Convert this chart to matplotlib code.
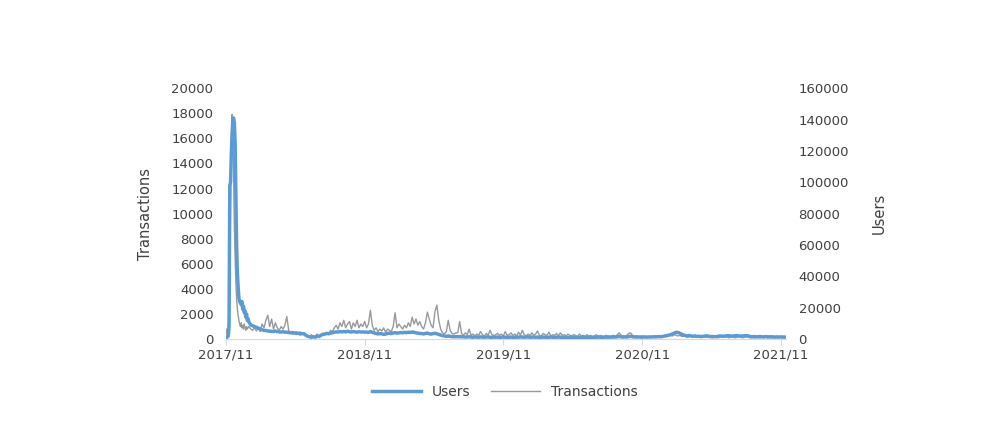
import matplotlib
matplotlib.use('Agg')
import matplotlib.pyplot as plt
import matplotlib.dates as mdates
import pandas as pd
import numpy as np

# daily-ish samples
# first part: every 2 days from 2017-11-01 (the spike), then every 5 days
trans_early = [300, 800, 600, 1000, 2500, 6000, 11000, 15500, 17900, 17000,
               13000, 9000, 6500, 4500, 3200, 2400, 1900, 1500, 1200, 1000,
               1300, 900, 1100, 800, 1200, 900, 700, 1000, 800, 900]
users_early = [500, 1000, 1500, 2000, 8000, 98000, 100000, 118000, 130000, 140000,
               141000, 138000, 125000, 90000, 58000, 42000, 33000, 26000, 24000, 23000,
               22000, 24000, 19000, 21000, 17000, 18000, 14000, 16000, 12000, 13000]

trans_late = [
    1000, 800, 700, 900, 650, 850, 600, 1200, 900, 1500,
    1900, 1000, 1600, 800, 1300, 900, 700, 1000, 800, 1100,
    1800, 700, 500, 400, 550, 350, 450, 300, 500, 350,
    300, 250, 200, 350, 150, 250, 400, 200, 300, 450,
    400, 500, 350, 700, 600, 900, 1100, 800, 1300, 1000,
    1500, 900, 1200, 1400, 800, 1300, 1000, 1500, 900, 1200,
    1000, 1400, 900, 1200, 2300, 1100, 700, 900, 600, 800,
    650, 900, 550, 800, 700, 600, 1000, 2100, 900, 1200,
    1000, 800, 1100, 900, 1300, 1000, 1750, 1200, 1600, 1100,
    1400, 1000, 800, 1300, 2150, 1600, 1100, 900, 2200, 2700,
    1500, 800, 500, 400, 600, 1500, 700, 450, 400, 500,
    500, 1400, 450, 300, 500, 350, 800, 300, 400, 250,
    400, 300, 600, 350, 250, 450, 300, 700, 350, 300,
    350, 450, 300, 400, 250, 600, 300, 350, 500, 300,
    400, 250, 550, 300, 700, 350, 250, 400, 300, 500,
    300, 400, 650, 300, 250, 450, 350, 300, 550, 250,
    350, 300, 450, 250, 500, 300, 350, 250, 400, 300,
    250, 350, 300, 200, 400, 250, 300, 200, 350, 250,
    300, 200, 250, 350, 200, 300, 250, 200, 300, 250,
    200, 250, 300, 200, 350, 500, 300, 250, 200, 300,
    450, 500, 300, 200, 250, 150, 200, 250, 150, 200,
    150, 200, 150, 200, 250, 150, 200, 150, 200, 250,
    200, 250, 300, 250, 350, 300, 250, 300, 200, 250,
    200, 150, 200, 250, 150, 200, 150, 200, 250, 150,
    200, 150, 200, 150, 100, 200, 150, 100, 150, 200,
    150, 200, 150, 100, 200, 150, 100, 150, 200, 150,
    100, 150, 200, 150, 100, 150, 100, 150, 200, 100,
    150, 100, 150, 100, 150, 100, 150, 100, 150, 100,
    150, 100, 120]
users_late = [
    11000, 9000, 8500, 8000, 7500, 7000, 6500, 6000, 5500, 5500,
    5200, 5000, 5000, 4800, 5200, 4800, 4600, 4500, 4700, 4400,
    4400, 4200, 4000, 4200, 3800, 4000, 3600, 3800, 3400, 3500,
    2500, 1800, 1500, 1200, 1500, 1200, 2000, 1600, 2500, 3000,
    3200, 3600, 3500, 3800, 4000, 4400, 4600, 4500, 4800, 4600,
    4800, 4600, 5000, 4700, 4500, 4800, 4600, 4400, 4700, 4500,
    4600, 4400, 4500, 4200, 4800, 4300, 4000, 3600, 3300, 3500,
    3400, 3000, 3200, 3600, 3800, 3500, 3900, 4100, 3800, 4000,
    4200, 4000, 4300, 4100, 4400, 4200, 4500, 4300, 4000, 3800,
    3600, 3500, 3300, 3600, 3800, 3400, 3200, 3500, 3700, 3400,
    3000, 2600, 2200, 2000, 1800, 2000, 1700, 1600, 1500, 1600,
    1500, 1600, 1400, 1500, 1300, 1400, 1500, 1300, 1200, 1400,
    1300, 1200, 1400, 1300, 1200, 1300, 1400, 1200, 1100, 1300,
    1200, 1300, 1100, 1200, 1300, 1200, 1100, 1200, 1300, 1100,
    1200, 1300, 1200, 1400, 1300, 1200, 1300, 1400, 1200, 1300,
    1300, 1200, 1300, 1100, 1200, 1300, 1200, 1100, 1200, 1300,
    1200, 1100, 1200, 1300, 1200, 1100, 1200, 1100, 1000, 1100,
    1000, 1100, 1000, 1100, 1000, 1100, 1200, 1000, 1100, 1000,
    1000, 1100, 1200, 1100, 1300, 1200, 1100, 1200, 1300, 1200,
    1300, 1200, 1400, 1300, 1500, 1700, 1400, 1300, 1400, 1300,
    1600, 1800, 1500, 1400, 1300, 1400, 1300, 1200, 1400, 1300,
    1300, 1400, 1300, 1500, 1400, 1500, 1600, 1500, 1700, 2000,
    2200, 2500, 2800, 3300, 3800, 4300, 4200, 3700, 3000, 2500,
    2200, 2000, 2300, 1900, 1800, 2000, 1700, 1800, 1600, 1700,
    1900, 2100, 1800, 1600, 1700, 1500, 1600, 1800, 2000, 1900,
    1800, 2000, 2200, 2100, 1900, 2000, 2100, 2200, 2000, 1900,
    2000, 2100, 2200, 2000, 1600, 1500, 1600, 1400, 1500, 1600,
    1500, 1400, 1600, 1500, 1400, 1500, 1400, 1300, 1400, 1300,
    1400, 1300, 1300]

tick_years = ['2017-11-01', '2018-11-01', '2019-11-01', '2020-11-01', '2021-11-01']

dates = pd.date_range('2017-11-01', periods=len(trans_early), freq='2D').append(
    pd.date_range('2017-12-31', periods=len(trans_late), freq='5D'))
transactions = trans_early + trans_late
users = users_early + users_late

txt = '#404040'
plt.rcParams['font.family'] = ['DejaVu Sans']

fig = plt.figure(figsize=(10, 4.26), dpi=100)
ax = fig.add_axes([0.226, 0.204, 0.56, 0.589])
ax2 = ax.twinx()

l_t, = ax.plot(dates, transactions, color='#999999', lw=1.0, label='Transactions')
l_u, = ax2.plot(dates, users, color='#5B9BD5', lw=2.5, label='Users')

ax.set_ylim(0, 20000)
ax.set_yticks(np.arange(0, 20001, 2000))
ax2.set_ylim(0, 160000)
ax2.set_yticks(np.arange(0, 160001, 20000))
ax.set_xlim(pd.Timestamp('2017-11-01'), pd.Timestamp('2021-11-14'))
ax.set_xticks(pd.to_datetime(tick_years))
ax.xaxis.set_major_formatter(mdates.DateFormatter('%Y/%m'))

for a in (ax, ax2):
    for s in ('top', 'left', 'right', 'bottom'):
        a.spines[s].set_visible(False)
ax.spines['bottom'].set_visible(True)
ax.spines['bottom'].set_color('#D9D9D9')

ax.tick_params(axis='y', length=0, pad=9, labelsize=9.5, labelcolor=txt)
ax2.tick_params(axis='y', length=0, pad=9, labelsize=9.5, labelcolor=txt)
ax.tick_params(axis='x', length=4, color='#D9D9D9', pad=3, labelsize=9.5, labelcolor=txt)

ax.set_ylabel('Transactions', fontsize=10.5, color=txt)
ax.yaxis.set_label_coords(-0.13, 0.5)
ax2.set_ylabel('Users', fontsize=10.5, color=txt)
ax2.yaxis.set_label_coords(1.154, 0.5)

fig.legend([l_u, l_t], ['Users', 'Transactions'], loc='center', bbox_to_anchor=(0.505, 0.08),
           ncol=2, frameon=False, fontsize=10, handlelength=3.5, columnspacing=1.5,
           labelcolor=txt)

fig.savefig('out.png', dpi=100)
